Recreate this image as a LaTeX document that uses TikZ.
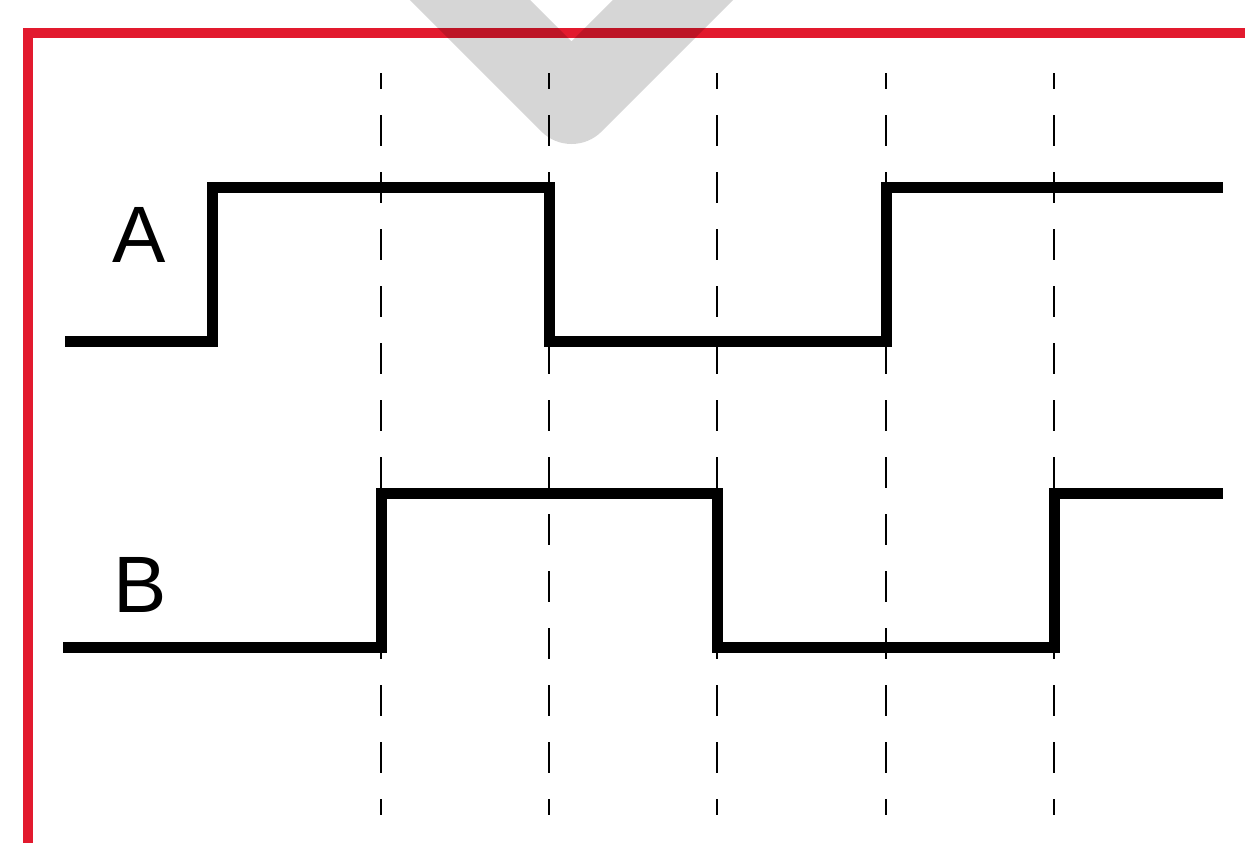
\documentclass[tikz,border=0pt]{standalone}
\usepackage{fontspec}
\setmainfont{Liberation Sans}
\definecolor{frame}{RGB}{226,26,46}
\tikzset{
  framebar/.style={draw=frame, line width=10bp, line join=miter},
  grid/.style={draw=black, line width=2.6bp, dash pattern=on 31bp off 26bp, dash phase=15bp},
  wave/.style={draw=black, line width=11bp, line join=miter, line cap=butt},
  water/.style={draw=black, draw opacity=0.16, line width=85bp, line join=round},
  lbl/.style={anchor=base, inner sep=0pt, font=\fontsize{80bp}{80bp}\selectfont}
}
\begin{document}
\begin{tikzpicture}[x=1bp,y=-1bp]
\useasboundingbox (0,0) rectangle (1245,843);
\fill[white] (0,0) rectangle (1245,843);
\clip (0,0) rectangle (1245,843);
% frame
\draw[framebar] (28,850) -- (28,33) -- (1255,33);
% watermark
\draw[water] (430,-40) -- (571.5,101.5) -- (713,-40);
% time grid
\foreach \x/\n in {381/g1,549/g2,717/g3,886/g4,1054/g5}{
  \coordinate (\n t) at (\x,73);
  \coordinate (\n b) at (\x,815);
  \draw[grid] (\n t) -- (\n b);
}
% signal A
\coordinate (a0) at (65,341);
\coordinate (a1) at (212,341);
\coordinate (a2) at (212,187);
\coordinate (a3) at (549,187);
\coordinate (a4) at (549,341);
\coordinate (a5) at (886,341);
\coordinate (a6) at (886,187);
\coordinate (a7) at (1223,187);
\draw[wave] (a0) -- (a1) -- (a2) -- (a3) -- (a4) -- (a5) -- (a6) -- (a7);
% signal B
\coordinate (b0) at (63,647);
\coordinate (b1) at (381,647);
\coordinate (b2) at (381,493);
\coordinate (b3) at (717,493);
\coordinate (b4) at (717,647);
\coordinate (b5) at (1054,647);
\coordinate (b6) at (1054,493);
\coordinate (b7) at (1223,493);
\draw[wave] (b0) -- (b1) -- (b2) -- (b3) -- (b4) -- (b5) -- (b6) -- (b7);
% labels
\node[lbl] (la) at (139.5,262) {A};
\node[lbl] (lb) at (140,612) {B};
\end{tikzpicture}
\end{document}
